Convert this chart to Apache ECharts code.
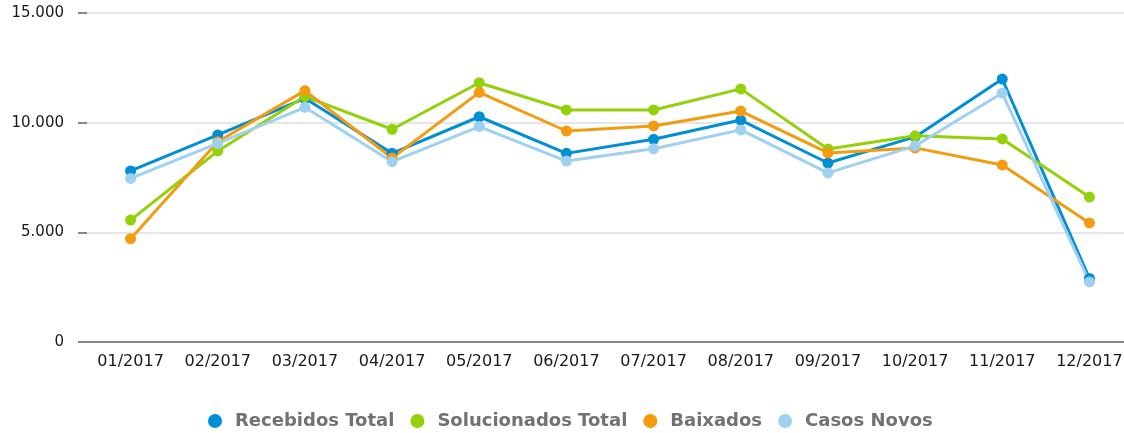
<!DOCTYPE html>
<html>
<head>
<meta charset="utf-8">
<style>
  html, body { margin: 0; padding: 0; background: #fff; }
  #chart { width: 1124px; height: 433px; }
</style>
<script src="https://cdn.jsdelivr.net/npm/echarts@6/dist/echarts.min.js"></script>
</head>
<body>
<div id="chart"></div>
<script>
const months = ['01/2017', '02/2017', '03/2017', '04/2017', '05/2017', '06/2017',
  '07/2017', '08/2017', '09/2017', '10/2017', '11/2017', '12/2017']
const recebidos = [7800, 9440, 11110, 8600, 10270, 8600, 9240, 10120, 8160, 9350, 11990, 2900]
const solucionados = [5560, 8710, 11190, 9700, 11820, 10580, 10580, 11540, 8800, 9400, 9260, 6610]
const baixados = [4710, 9130, 11460, 8390, 11380, 9620, 9850, 10530, 8620, 8850, 8070, 5430]
const casosNovos = [7460, 9060, 10700, 8220, 9820, 8250, 8810, 9670, 7710, 8940, 11350, 2740]
const yTicks = [0, 5000, 10000, 15000]

const seriesDefs = [
  { name: 'Recebidos Total', data: recebidos, color: '#008fd5' },
  { name: 'Solucionados Total', data: solucionados, color: '#93d10b' },
  { name: 'Baixados', data: baixados, color: '#f39c0f' },
  { name: 'Casos Novos', data: casosNovos, color: '#a0d0ef' },
]

const fmt = v => String(v).replace(/\B(?=(\d{3})+(?!\d))/g, '.')

const chart = echarts.init(document.getElementById('chart'))
chart.setOption({
  animation: false,
  grid: { left: 87, width: 1046, top: 13, height: 329, containLabel: false, outerBoundsMode: 'none' },
  legend: {
    top: 407, left: 203,
    icon: 'circle', itemWidth: 30, itemHeight: 14, itemGap: 16,
    textStyle: { fontFamily: 'DejaVu Sans', fontWeight: 'bold', fontSize: 18, color: '#727272' },
    data: seriesDefs.map(s => s.name),
  },
  xAxis: {
    type: 'category', data: months, boundaryGap: true,
    axisLine: { lineStyle: { color: '#888', width: 2 } },
    axisTick: { alignWithLabel: true, length: 7, lineStyle: { color: '#888', width: 2 } },
    axisLabel: { margin: 12, fontFamily: 'DejaVu Sans', fontSize: 16, color: '#1a1a1a' },
  },
  yAxis: {
    type: 'value', min: yTicks[0], max: yTicks[yTicks.length - 1], interval: 5000,
    axisLine: { show: false },
    axisTick: { show: true, length: 9, lineStyle: { color: '#888', width: 2 } },
    axisLabel: { margin: 23, fontFamily: 'DejaVu Sans', fontSize: 15, color: '#1a1a1a', formatter: fmt },
    splitLine: { lineStyle: { color: '#e6e6e6', width: 2 } },
  },
  series: seriesDefs.map(s => ({
    name: s.name, type: 'line', data: s.data,
    symbol: 'circle', symbolSize: 11,
    lineStyle: { color: s.color, width: 3 },
    itemStyle: { color: s.color },
  })),
})
</script>
</body>
</html>
